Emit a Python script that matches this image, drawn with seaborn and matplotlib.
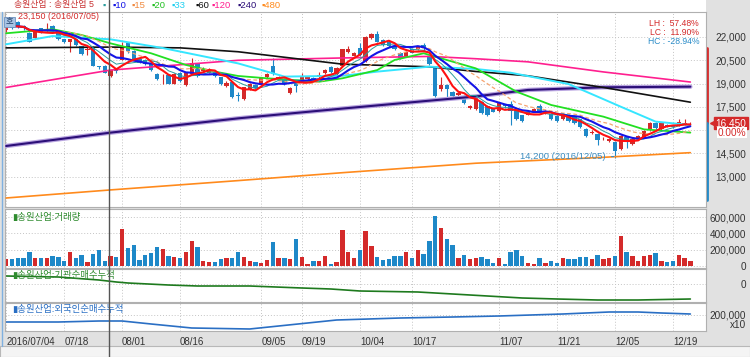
import numpy as np
import pandas as pd
import matplotlib.pyplot as plt
import seaborn as sns
from matplotlib.lines import Line2D
from matplotlib.patches import Rectangle
from matplotlib.ticker import FuncFormatter

sns.set_theme(style='white')
plt.rcParams['font.family'] = ['Liberation Sans', 'Noto Sans CJK KR', 'DejaVu Sans']
plt.rcParams['axes.unicode_minus'] = False

# daily candles, 2016/07/04 .. 2016/12/22 (trading days)
opens = [22450, 22800, 22950, 22700, 22250, 21950, 22550, 22400, 22700, 22300,
         21850, 21650, 21850, 21400, 21150, 21350, 20100, 20150, 19500, 19900,
         20550, 21600, 21100, 20600, 20550, 20350, 19600, 19400, 19550, 19000,
         19700, 18900, 19600, 20300, 19800, 19700, 19800, 19400, 18850, 19100,
         18250, 18000, 18650, 18900, 19000, 19400, 20100, 19300, 19300, 18400,
         19200, 19250, 19300, 19350, 19400, 19650, 20050, 19600, 20100, 21050,
         20800, 21300, 20450, 21950, 22200, 21800, 21700, 21450, 21000, 20800,
         21250, 21200, 21500, 20750, 20100, 18650, 18900, 18450, 18250, 18200,
         17450, 17350, 17800, 17550, 17400, 17250, 17650, 17700, 17250, 16950,
         17000, 17200, 17550, 17100, 17050, 16900, 16700, 17000, 16850, 16700,
         16100, 15800, 15750, 15400, 15300, 15250, 14800, 15550, 15100, 15450,
         15550, 16000, 16450, 16050, 16350, 16300, 16300, 16400, 16450]
closes = [22800, 22600, 22650, 22550, 21700, 22300, 22350, 22500, 22450, 21850,
          21650, 21850, 21500, 20900, 21250, 20150, 20050, 19700, 19900, 19800,
          21350, 21100, 20550, 20350, 20250, 19850, 19300, 19450, 19000, 19600,
          19150, 19700, 20350, 19500, 19950, 19900, 19500, 18950, 19050, 18150,
          18200, 18750, 19000, 18700, 19400, 19600, 19600, 19450, 18950, 18700,
          18850, 19400, 19400, 19250, 19550, 19900, 19750, 20000, 21200, 21250,
          21000, 20850, 22000, 22200, 21700, 21500, 21400, 21200, 20650, 21050,
          21000, 21400, 21300, 20250, 18200, 18900, 18650, 18200, 18400, 17750,
          17550, 18150, 17100, 16950, 17200, 17750, 17550, 17250, 16700, 16600,
          17150, 17350, 17250, 17250, 16700, 16600, 17050, 16600, 16450, 16200,
          15600, 15900, 15350, 15450, 15450, 14650, 15650, 15300, 15450, 15650,
          15950, 16450, 16150, 16450, 16250, 16200, 16500, 16450, 16450]
highs = [22900, 23150, 23000, 22800, 22300, 22350, 22600, 22900, 22750, 22350,
         21900, 21900, 21900, 21450, 21350, 21400, 20150, 20200, 19950, 20000,
         21700, 21700, 21150, 20700, 20600, 20400, 19650, 19600, 19600, 19650,
         19750, 19750, 20650, 20350, 20050, 20000, 19850, 19450, 19150, 19150,
         18450, 18800, 19050, 18950, 19450, 19650, 20650, 19500, 19350, 18750,
         19250, 19700, 19450, 19400, 19750, 19950, 20100, 20050, 21250, 21450,
         21050, 21600, 22050, 22250, 22400, 21850, 21750, 21500, 21050, 21100,
         21300, 21450, 21600, 20800, 20150, 19400, 18950, 18500, 18450, 18250,
         17650, 18200, 17850, 17600, 17450, 17800, 17700, 17850, 17300, 17000,
         17200, 17400, 17700, 17300, 17100, 16950, 17100, 17050, 16900, 16750,
         16150, 16000, 15800, 15550, 15500, 15300, 15700, 15650, 15500, 15700,
         16000, 16500, 16550, 16500, 16400, 16350, 16750, 16700, 16550]
lows = [22350, 22500, 22550, 22450, 21650, 21900, 22250, 22350, 22400, 21800,
        21600, 21050, 21450, 20850, 20850, 20100, 19950, 19650, 19450, 19650,
        20500, 21000, 20500, 20300, 20200, 19800, 19250, 18950, 18950, 18950,
        19100, 18850, 19550, 19450, 19750, 19650, 19450, 18900, 18800, 18100,
        17900, 17950, 18600, 18650, 18950, 19350, 19550, 19250, 18900, 18350,
        18450, 19200, 19250, 19200, 19350, 19600, 19700, 19550, 20050, 21000,
        20750, 20750, 20400, 21900, 21650, 21450, 21350, 21150, 20600, 20750,
        20950, 21150, 21100, 20200, 18150, 18550, 18000, 18150, 18200, 17700,
        17350, 17300, 17050, 16900, 17150, 17200, 17450, 16300, 16650, 16550,
        16950, 17150, 17200, 17050, 16650, 16550, 16650, 16550, 16400, 16150,
        15550, 15750, 15050, 15350, 15250, 14200, 14750, 14850, 15050, 15400,
        15500, 15950, 16100, 16000, 16200, 16150, 16250, 16350, 16400]
volumes = [83, 83, 96, 96, 175, 92, 100, 100, 117, 108,
           63, 167, 92, 129, 46, 146, 200, 63, 117, 113,
           458, 217, 254, 75, 129, 158, 233, 212, 125, 113,
           96, 171, 312, 237, 67, 54, 54, 83, 96, 96,
           167, 108, 67, 50, 33, 75, 300, 96, 104, 88,
           329, 113, 25, 63, 63, 125, 25, 54, 437, 167,
           96, 196, 429, 242, 108, 71, 88, 125, 125, 167,
           96, 196, 146, 312, 617, 462, 325, 254, 104, 133,
           80, 96, 113, 83, 42, 96, 25, 167, 192, 125,
           42, 25, 96, 40, 67, 33, 96, 83, 83, 108,
           108, 83, 133, 88, 96, 117, 367, 171, 117, 67,
           125, 137, 158, 67, 54, 58, 129, 100, 58]  # thousand shares

# long moving averages (candle index, price)
ma20_idx = [0, 8, 13, 18, 25, 31, 36, 40, 45, 54, 58, 64, 67, 72, 81, 88, 94, 103, 110, 118]
ma20_val = [22240, 22500, 22130, 21590, 20950, 20200, 19770, 19490, 19340, 19120, 19340, 19870,
            20520, 20950, 19980, 18480, 17620, 16870, 16050, 15840]
ma33_idx = [0, 8, 18, 27, 40, 48, 58, 64, 73, 81, 87, 97, 106, 112, 118]
ma33_val = [21530, 22060, 21850, 21290, 20300, 19450, 19500, 19770, 20090, 19940, 19700, 18970,
            17510, 16550, 16330]
ma60_idx = [0, 18, 30, 40, 58, 73, 81, 90, 103, 118]
ma60_val = [21300, 21350, 21300, 21050, 20250, 20080, 19780, 19500, 18750, 17800]
ma120_idx = [0, 18, 40, 58, 73, 81, 90, 103, 118]
ma120_val = [18750, 19870, 20500, 20650, 20750, 20600, 20400, 19750, 19100]
ma240_idx = [0, 18, 40, 58, 81, 90, 103, 118]
ma240_val = [14980, 15840, 16760, 17390, 18170, 18590, 18760, 18800]
ma480_idx = [0, 18, 40, 58, 81, 103, 118]
ma480_val = [11630, 12150, 12750, 13260, 13870, 14250, 14550]

# cumulative net buying
inst_idx = [0, 9, 16, 19, 21, 28, 33, 42, 51, 56, 61, 71, 80, 89, 95, 102, 109, 118]
inst_val = [40000, 35000, 20000, 10000, 5000, -5000, -10000, -10000, -20000, -25000, -35000,
            -40000, -55000, -70000, -75000, -80000, -80000, -75000]
frgn_idx = [0, 9, 16, 20, 25, 32, 42, 47, 57, 68, 77, 85, 96, 104, 109, 113, 118]
frgn_val = [130000, 130000, 140000, 140000, 110000, 70000, 60000, 90000, 150000, 170000, 180000,
            190000, 210000, 230000, 230000, 220000, 210000]

tick_pos = [0, 10, 20, 30, 44, 51, 61, 70, 85, 95, 105, 115]
tick_labels = ['2016/07/04', '07/18', '08/01', '08/16', '09/05', '09/19', '10/04', '10/17',
               '11/07', '11/21', '12/05', '12/19']
price_ticks = [13000, 14500, 16000, 17500, 19000, 20500, 22000]
cursor_idx = 17.8

RED, BLUE = '#d42a2a', '#1e88c8'
FS = 7.2
W, H = 750, 357
fig = plt.figure(figsize=(W / 100, H / 100), dpi=100, facecolor='#e1e1e1')
fig.add_artist(Rectangle((0, 1 - 12 / H), 706 / W, 12 / H, transform=fig.transFigure,
                         facecolor='white', edgecolor='none', zorder=0))
fig.add_artist(Rectangle((0, 0), 1, 11 / H, transform=fig.transFigure,
                         facecolor='#f4f4f4', edgecolor='#b8b8b8', lw=0.8, zorder=0))

fmt = FuncFormatter(lambda v, p: f'{v:,.0f}')
LBL_PAD = 29   # right-aligned axis labels end near the figure edge


def pane(top, bottom):
    ax = fig.add_axes([5 / W, 1 - bottom / H, 701 / W, (bottom - top) / H])
    ax.set_facecolor('white')
    for s in ax.spines.values():
        s.set_color('#b0b0b0')
        s.set_linewidth(0.8)
    ax.set_xlim(-0.2, 120.7)
    ax.yaxis.tick_right()
    ax.tick_params(axis='y', length=0, labelsize=FS, colors='#333333', pad=LBL_PAD)
    ax.tick_params(axis='x', length=0)
    ax.set_xticks(tick_pos)
    ax.set_xticklabels([])
    ax.grid(True, color='#c4c4c4', lw=0.7, ls=(0, (1, 2)))
    return ax


def right_align(ax):
    plt.setp(ax.get_yticklabels(), ha='right')


ax = pane(12, 207)
ax_v = pane(209, 268)
ax_i = pane(269, 302)
ax_f = pane(303, 331)

# ---- price panel
idx = np.arange(len(closes))
o, c = np.array(opens), np.array(closes)
col = np.where(c >= o, RED, BLUE)
ax.vlines(idx, lows, highs, colors=col, lw=0.8, zorder=2)
ax.bar(idx, np.maximum(np.abs(c - o), 30), bottom=np.minimum(o, c), width=0.75,
       color=col, lw=0, zorder=2)

s = pd.Series(closes, dtype=float)
sns.lineplot(x=ma480_idx, y=ma480_val, ax=ax, color='#ff8a1c', lw=1.2, zorder=3)
sns.lineplot(x=ma240_idx, y=ma240_val, ax=ax, color='#b8a4e0', lw=3.2, zorder=3)
sns.lineplot(x=ma240_idx, y=ma240_val, ax=ax, color='#2c0f78', lw=1.5, zorder=3)
sns.lineplot(x=ma120_idx, y=ma120_val, ax=ax, color='#ff1f8f', lw=1.2, zorder=3)
sns.lineplot(x=ma60_idx, y=ma60_val, ax=ax, color='#111111', lw=1.2, zorder=3)
sns.lineplot(x=ma33_idx, y=ma33_val, ax=ax, color='#35e6ff', lw=1.4, zorder=3)
sns.lineplot(x=ma20_idx, y=ma20_val, ax=ax, color='#22e022', lw=1.3, zorder=3)
sns.lineplot(x=idx, y=s.rolling(15, min_periods=1).mean(), ax=ax, color='#f6a470', lw=0.9,
             ls=(0, (3, 2)), zorder=3)
sns.lineplot(x=idx, y=s.rolling(7, min_periods=1).mean(), ax=ax, color='#2a9d9d', lw=0.7, zorder=3)
sns.lineplot(x=idx, y=s.rolling(10, min_periods=1).mean(), ax=ax, color='#1414e6', lw=1.5, zorder=3)
sns.lineplot(x=idx, y=s.rolling(5, min_periods=1).mean(), ax=ax, color='#ff1010', lw=1.5, zorder=3)

ax.set_ylim(11050, 23610)
ax.set_yticks(price_ticks)
ax.yaxis.set_major_formatter(FuncFormatter(lambda v, p: '' if v == 16000 else f'{v:,.0f}'))
right_align(ax)

low_i = int(np.argmin(lows))
ax.annotate(f'{lows[low_i]:,} (2016/12/05)', xy=(low_i - 0.2, lows[low_i] + 100),
            xytext=(-6, 0), textcoords='offset points', ha='right', va='center',
            fontsize=6.8, color='#3a8cc0',
            arrowprops=dict(arrowstyle='-', color='#3a8cc0', lw=0.8))
hi_i = int(np.argmax(highs))
fig.text(18 / W, 1 - 16.5 / H, f'{highs[hi_i]:,} (2016/07/05)', color=RED, fontsize=6.4,
         va='center', ha='left')

# right edge markers
yt = ax.get_yaxis_transform()
ax.plot([1.0015, 1.0015], [21300, closes[-1]], transform=yt, color=RED, lw=2, clip_on=False)
ax.plot([1.0015, 1.0015], [closes[-1], 11500], transform=yt, color=BLUE, lw=2, clip_on=False)
ax.plot(1.0095, closes[-1], marker='<', color=RED, ms=5, transform=yt, clip_on=False)
ax.annotate(f'{closes[-1]:,}', xy=(1.0575, closes[-1]), xycoords=yt, ha='right', va='center',
            fontsize=FS, color='white',
            bbox=dict(boxstyle='square,pad=0.12', fc=RED, ec=RED))
chg = (closes[-1] - closes[-2]) / closes[-2] * 100
ax.annotate(f'{chg:.2f}%', xy=(1.0575, closes[-1]), xycoords=yt, xytext=(0, -7),
            textcoords='offset points', va='center', ha='right', fontsize=FS, color=RED,
            bbox=dict(boxstyle='square,pad=0.05', fc='white', ec='none'))

fig.text(699 / W, 1 - 28 / H, 'LH :  57.48%\nLC :  11.90%', color=RED, fontsize=6.2,
         ha='right', va='center', linespacing=1.0)
fig.text(699 / W, 1 - 41.5 / H, 'HC : -28.94%', color='#2a8cc8', fontsize=6.2,
         ha='right', va='center')

# legend row
fig.text(14 / W, 1 - 5 / H, '송원산업 : 송원산업 5', color='#c83030', fontsize=6.4, va='center')
fig.text(103 / W, 1 - 5 / H, '▪', color='#2a9d9d', fontsize=6.6, va='center')
for txt, xx, cc in [('▪10', 112, '#1414e6'), ('▪15', 132, '#f08a40'), ('▪20', 152, '#22c022'),
                    ('▪33', 172, '#20d0f0'), ('▪60', 195, '#111111'), ('▪120', 212, '#ff1f8f'),
                    ('▪240', 237, '#2c0f78'), ('▪480', 262, '#ff8a1c')]:
    fig.text(xx / W, 1 - 5 / H, txt, color=cc, fontsize=6.8, va='center')
fig.text(6 / W, 1 - 22 / H, '호', color='#20406a', fontsize=6, va='center',
         bbox=dict(boxstyle='square,pad=0.2', fc='#a8c4e4', ec='#6f93c0', lw=0.6))

# ---- volume panel
vol = np.array(volumes) * 1000
ax_v.bar(idx, vol, width=0.75, color=col, lw=0, zorder=2)
ax_v.set_ylim(-24500, 699000)
ax_v.set_yticks([0, 200000, 400000, 600000])
ax_v.yaxis.set_major_formatter(fmt)
right_align(ax_v)
ax_v.text(0.01, 0.86, '▮송원산업:거래량', transform=ax_v.transAxes, color='#2e8b2e',
          fontsize=6.8, va='center')

# ---- institution cumulative
sns.lineplot(x=inst_idx, y=inst_val, ax=ax_i, color='#1e7a1e', lw=1.2)
ax_i.set_ylim(-90000, 75000)
ax_i.set_yticks([0])
ax_i.yaxis.set_major_formatter(fmt)
right_align(ax_i)
ax_i.text(0.01, 0.8, '▮송원산업:기관순매수누적', transform=ax_i.transAxes, color='#2e8b2e',
          fontsize=6.8, va='center')

# ---- foreign cumulative
sns.lineplot(x=frgn_idx, y=frgn_val, ax=ax_f, color='#2a6fc4', lw=1.2)
ax_f.set_ylim(40000, 320000)
ax_f.set_yticks([200000])
ax_f.yaxis.set_major_formatter(fmt)
right_align(ax_f)
ax_f.text(1.0575, 0.2, 'x10', transform=ax_f.transAxes, fontsize=FS, color='#333333',
          va='center', ha='right')
ax_f.text(0.01, 0.78, '▮송원산업:외국인순매수누적', transform=ax_f.transAxes, color='#2a6fc4',
          fontsize=6.8, va='center')
ax_f.set_xticklabels(tick_labels, ha='left')
ax_f.tick_params(axis='x', labelsize=7, colors='#333333', pad=4)

for a in (ax, ax_v, ax_i, ax_f):
    a.set_xlabel('')
    a.set_ylabel('')

# cursor line
x0, x1 = ax.get_xlim()
xc = (5 + (cursor_idx - x0) / (x1 - x0) * 701) / W
fig.add_artist(Line2D([xc, xc], [0, 1], transform=fig.transFigure, color='#555555', lw=1))
fig.add_artist(Line2D([2 / W, 2 / W], [11 / H, 1 - 12 / H], transform=fig.transFigure,
                      color='#7fb0e0', lw=1))

fig.savefig('out.png', dpi=100, facecolor=fig.get_facecolor())
